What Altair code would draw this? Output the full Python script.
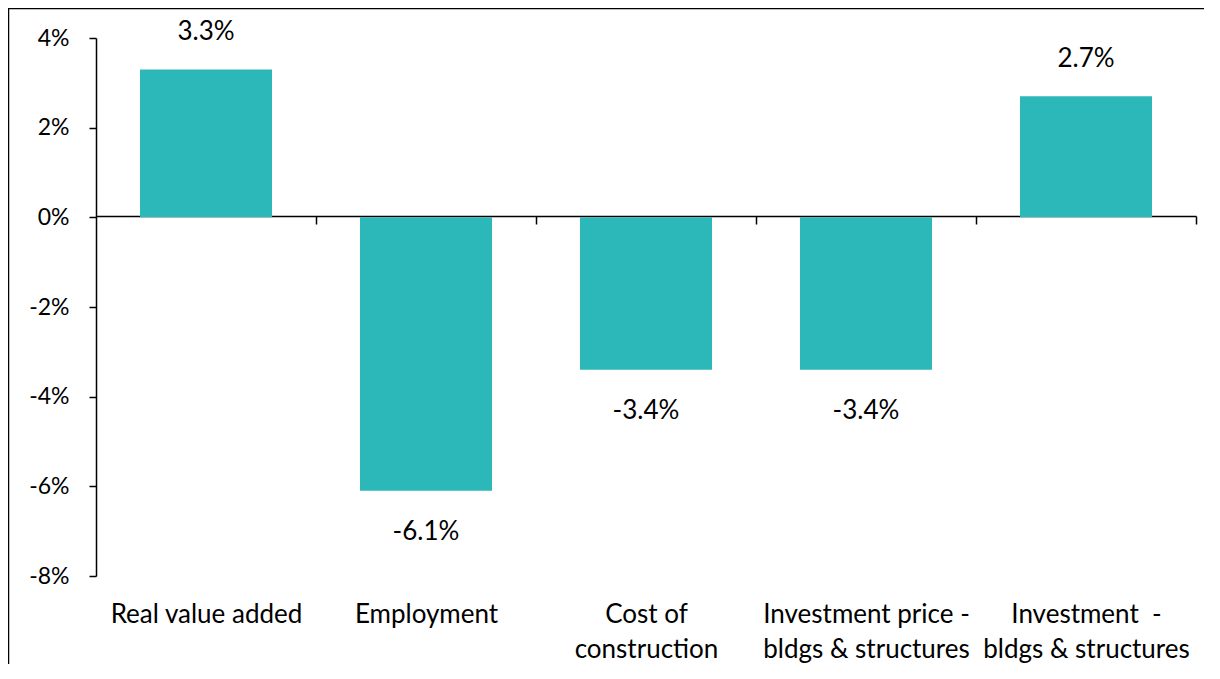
import altair as alt
import pandas as pd

categories = [
    "Real value added",
    "Employment",
    "Cost of\nconstruction",
    "Investment price -\nbldgs & structures",
    "Investment\u00a0 -\nbldgs & structures",
]
values = [3.3, -6.1, -3.4, -3.4, 2.7]
y_ticks = [-8, -6, -4, -2, 0, 2, 4]

df = pd.DataFrame({"category": categories, "value": values})

FONT = "Lato"
FS_Y = 23
FS_X = 26
TEAL = "#2CB7B9"

x_enc = alt.X(
    "category:N",
    sort=categories,
    scale=alt.Scale(paddingInner=0.4, paddingOuter=0.2),
    axis=alt.Axis(
        title=None,
        labelAngle=0,
        offset=-360,
        tickOffset=110,
        labelOffset=-110,
        tickSize=8,
        tickWidth=1.5,
        domainWidth=1.5,
        labelPadding=398,
        labelExpr="split(datum.label, '\\n')",
        labelBaseline="alphabetic",
        labelLineHeight=35,
        labelLimit=400,
        labelFontSize=FS_X,
        labelFont=FONT,
        labelColor="black",
        domainColor="black",
        tickColor="black",
    ),
)

y_enc = alt.Y(
    "value:Q",
    scale=alt.Scale(domain=[-8, 4], nice=False),
    axis=alt.Axis(
        title=None,
        values=y_ticks,
        grid=False,
        labelExpr="datum.value + '%'",
        tickSize=7,
        tickWidth=1.5,
        domainWidth=1.5,
        labelPadding=20,
        labelFontSize=FS_Y,
        labelFont=FONT,
        labelColor="black",
        domainColor="black",
        tickColor="black",
    ),
)

base = alt.Chart(df).encode(x=x_enc, y=y_enc)

bars = base.mark_bar(color=TEAL)

lbl_expr = "replace(format(datum.value, '.1f'), '\u2212', '-') + '%'"

labels_pos = (
    base.transform_filter("datum.value >= 0")
    .transform_calculate(lbl=lbl_expr)
    .mark_text(dy=-37, baseline="middle", font=FONT, fontSize=FS_X, color="black")
    .encode(text="lbl:N")
)
labels_neg = (
    base.transform_filter("datum.value < 0")
    .transform_calculate(lbl=lbl_expr)
    .mark_text(dy=41, baseline="middle", font=FONT, fontSize=FS_X, color="black")
    .encode(text="lbl:N")
)

frame = (
    alt.Chart(pd.DataFrame({"a": [0]}))
    .mark_rect(fill="transparent", stroke="black", strokeWidth=1.5)
    .encode(
        x=alt.value(-87.5),
        y=alt.value(-29.5),
        x2=alt.value(1200),
        y2=alt.value(700),
    )
)

chart = (
    alt.layer(frame, bars, labels_pos, labels_neg)
    .properties(
        width=1100,
        height=538,
        autosize=alt.AutoSizeParams(type="none"),
        padding={"left": 88, "top": 30, "right": 8, "bottom": 88},
    )
    .configure_view(stroke="transparent")
)

chart.save("out.html", embed_options={"renderer": "svg", "actions": False})
